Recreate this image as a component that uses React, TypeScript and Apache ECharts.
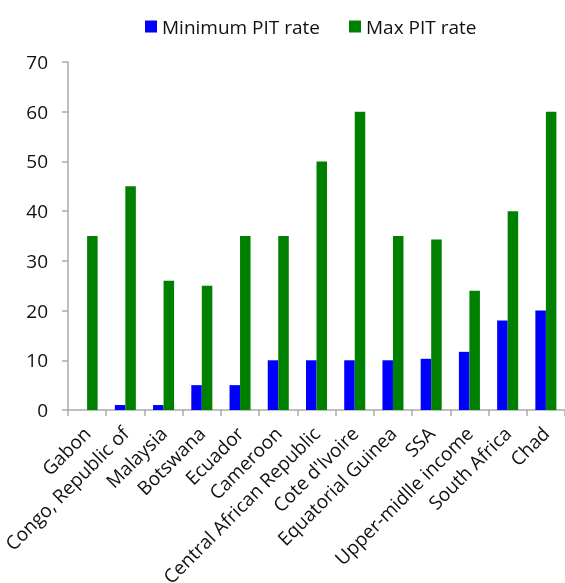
import React, { useEffect, useRef } from "react";
import * as echarts from "echarts";

const categories = [
  "Gabon",
  "Congo, Republic of",
  "Malaysia",
  "Botswana",
  "Ecuador",
  "Cameroon",
  "Central African Republic",
  "Cote d'Ivoire",
  "Equatorial Guinea",
  "SSA",
  "Upper-midlle income",
  "South Africa",
  "Chad",
];
const minRate = [0, 1, 1, 5, 5, 10, 10, 10, 10, 10.3, 11.7, 18, 20];
const maxRate = [35, 45, 26, 25, 35, 35, 50, 60, 35, 34.3, 24, 40, 60];
const yTicks = { min: 0, max: 70, interval: 10 };

const FONT = "'Open Sans', 'Noto Sans', sans-serif";

export default function App() {
  const ref = useRef<HTMLDivElement>(null);
  useEffect(() => {
    if (!ref.current) return;
    const chart = echarts.init(ref.current, undefined, { renderer: "svg" });
    chart.setOption({
      animation: false,
      textStyle: { fontFamily: FONT },
      legend: {
        top: 12,
        left: 140,
        itemWidth: 12,
        itemHeight: 12,
        itemGap: 29,
        icon: "rect",
        textStyle: { fontSize: 19, color: "#111", fontFamily: FONT },
        data: ["Minimum PIT rate", "Max PIT rate"],
      },
      grid: {
        left: 68,
        right: 0,
        top: 62,
        bottom: 173,
        containLabel: false,
        outerBoundsMode: "none",
      },
      xAxis: {
        type: "category",
        data: categories,
        axisLine: { lineStyle: { color: "#aaa", width: 1.5 } },
        axisTick: { show: true, length: 6, lineStyle: { color: "#aaa", width: 1.5 } },
        axisLabel: {
          rotate: 45,
          interval: 0,
          fontSize: 19,
          color: "#111",
          fontFamily: FONT,
          margin: 20,
        },
      },
      yAxis: {
        type: "value",
        min: yTicks.min,
        max: yTicks.max,
        interval: yTicks.interval,
        splitLine: { show: false },
        axisLine: { show: true, lineStyle: { color: "#aaa", width: 1.5 } },
        axisTick: { show: true, length: 6, lineStyle: { color: "#aaa", width: 1.5 } },
        axisLabel: { fontSize: 19, color: "#111", fontFamily: FONT, margin: 20 },
      },
      series: [
        {
          name: "Minimum PIT rate",
          type: "bar",
          data: minRate,
          itemStyle: { color: "#0000ff" },
          barGap: "0%",
          barCategoryGap: "45%",
        },
        {
          name: "Max PIT rate",
          type: "bar",
          data: maxRate,
          itemStyle: { color: "#008000" },
          barGap: "0%",
          barCategoryGap: "45%",
        },
      ],
    });
    return () => chart.dispose();
  }, []);
  return (
    <div
      ref={ref}
      style={{ position: "fixed", left: 0, top: 0, width: 565, height: 583 }}
    />
  );
}
